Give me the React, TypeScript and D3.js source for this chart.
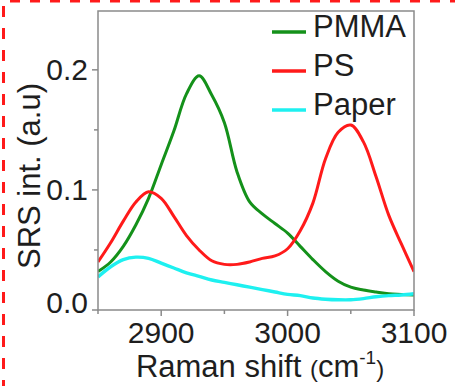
import React from 'react';
import * as d3 from 'd3';

const width = 455;
const height = 386;
const margin = { top: 11, right: 41, bottom: 76, left: 98 };

// Raman shift (cm-1)
const shifts = [
  2850, 2860, 2870, 2880, 2890, 2900, 2910, 2920, 2930, 2940, 2950, 2960, 2970,
  2980, 2990, 3000, 3010, 3020, 3030, 3040, 3050, 3060, 3070, 3080, 3090, 3100,
];

const pmma = [
  0.032, 0.040, 0.053, 0.071, 0.093, 0.121, 0.149, 0.180, 0.195, 0.179, 0.156,
  0.115, 0.09, 0.080, 0.072, 0.064, 0.053, 0.042, 0.032, 0.024, 0.019, 0.0167,
  0.015, 0.0135, 0.013, 0.0125,
];

const ps = [
  0.040, 0.056, 0.074, 0.090, 0.0985, 0.093, 0.078, 0.062, 0.050, 0.041, 0.038,
  0.038, 0.040, 0.043, 0.045, 0.051, 0.066, 0.089, 0.126, 0.148, 0.154, 0.140,
  0.111, 0.079, 0.055, 0.032,
];

const paper = [
  0.0275, 0.036, 0.042, 0.044, 0.043, 0.039, 0.035, 0.031, 0.028, 0.025, 0.023,
  0.021, 0.019, 0.017, 0.015, 0.013, 0.012, 0.010, 0.009, 0.0085, 0.0085, 0.0095,
  0.011, 0.012, 0.0125, 0.0135,
];

const seriesNames = ['PMMA', 'PS', 'Paper'];
const seriesColors = ['#14911a', '#ff1a1a', '#1ef0f0'];
const seriesValues = [pmma, ps, paper];

const xTicks = [2900, 3000, 3100];
const xMinorTicks = [2850, 2950, 3050];
const yTicks = [0.0, 0.1, 0.2];
const yMinorTicks = [0.05, 0.15];

const font = '"Liberation Sans", Arial, sans-serif';
const axisColor = '#8a8a8a';
const textColor = '#1e1e1e';

export default function App() {
  const x = d3
    .scaleLinear()
    .domain([2850, 3100])
    .range([margin.left, width - margin.right]);
  const y = d3
    .scaleLinear()
    .domain([0, 0.249])
    .range([height - margin.bottom, margin.top]);

  const line = d3
    .line<number>()
    .x((_, i) => x(shifts[i]))
    .y(d => y(d))
    .curve(d3.curveCatmullRom.alpha(0.5));

  const x0 = margin.left;
  const x1 = width - margin.right;
  const y0 = y(0);
  const y1 = margin.top;

  return (
    <svg
      width={width}
      height={height}
      style={{ position: 'absolute', left: 0, top: 0, background: '#fff' }}
    >
      <defs>
        <clipPath id="plot">
          <rect x={x0} y={y1} width={x1 - x0} height={y0 - y1} />
        </clipPath>
      </defs>

      {/* dashed red border */}
      <line x1={0} y1={1} x2={width} y2={1} stroke="#ff1a1a" strokeWidth={3} strokeDasharray="10 10" strokeDashoffset={-10} />
      <line x1={3.5} y1={6} x2={3.5} y2={height} stroke="#ff1a1a" strokeWidth={3} strokeDasharray="11 11" />

      {/* curves */}
      <g clipPath="url(#plot)">
        {seriesValues.map((vals, k) => (
          <path
            key={seriesNames[k]}
            d={line(vals) || ''}
            fill="none"
            stroke={seriesColors[k]}
            strokeWidth={k === 2 ? 3.4 : 3}
            strokeLinejoin="round"
          />
        ))}
      </g>

      {/* frame */}
      <rect x={x0} y={y1} width={x1 - x0} height={y0 - y1} fill="none" stroke={axisColor} strokeWidth={1.5} />

      {/* x ticks */}
      {xTicks.map(t => (
        <g key={'xt' + t}>
          <line x1={x(t)} x2={x(t)} y1={y0} y2={y0 + 6} stroke={axisColor} strokeWidth={1.5} />
          <text x={x(t)} y={343} textAnchor="middle" fontFamily={font} fontSize={30} fill={textColor}>
            {t}
          </text>
        </g>
      ))}
      {xMinorTicks.map(t => (
        <line key={'xm' + t} x1={x(t)} x2={x(t)} y1={y0} y2={y0 + 4} stroke={axisColor} strokeWidth={1.5} />
      ))}

      {/* y ticks */}
      {yTicks.map(t => (
        <g key={'yt' + t}>
          <line x1={x0 - 6} x2={x0} y1={y(t)} y2={y(t)} stroke={axisColor} strokeWidth={1.5} />
          <text
            x={88}
            y={y(t) + (t === 0 ? -8 : 0)}
            dy="0.35em"
            textAnchor="end"
            fontFamily={font}
            fontSize={30}
            fill={textColor}
          >
            {t.toFixed(1)}
          </text>
        </g>
      ))}
      {yMinorTicks.map(t => (
        <line key={'ym' + t} x1={x0 - 4} x2={x0} y1={y(t)} y2={y(t)} stroke={axisColor} strokeWidth={1.5} />
      ))}

      {/* legend */}
      {seriesNames.map((name, k) => (
        <g key={'lg' + name} transform={`translate(272, ${32 + k * 39})`}>
          <line x1={0} x2={34} y1={0} y2={0} stroke={seriesColors[k]} strokeWidth={3.5} />
          <text x={41} y={0} dy="0.15em" fontFamily={font} fontSize={31} fill={textColor}>
            {name}
          </text>
        </g>
      ))}

      {/* axis titles */}
      <text x={260} y={377} textAnchor="middle" fontFamily={font} fontSize={31} fill={textColor}>
        Raman shift <tspan fontSize={24}>(</tspan>cm
        <tspan fontSize={19} dy={-13}>-1</tspan>
        <tspan fontSize={24} dy={13}>)</tspan>
      </text>
      <text
        transform="translate(40, 176) rotate(-90)"
        textAnchor="middle"
        fontFamily={font}
        fontSize={31}
        fill={textColor}
      >
        SRS int. (a.u)
      </text>
    </svg>
  );
}
